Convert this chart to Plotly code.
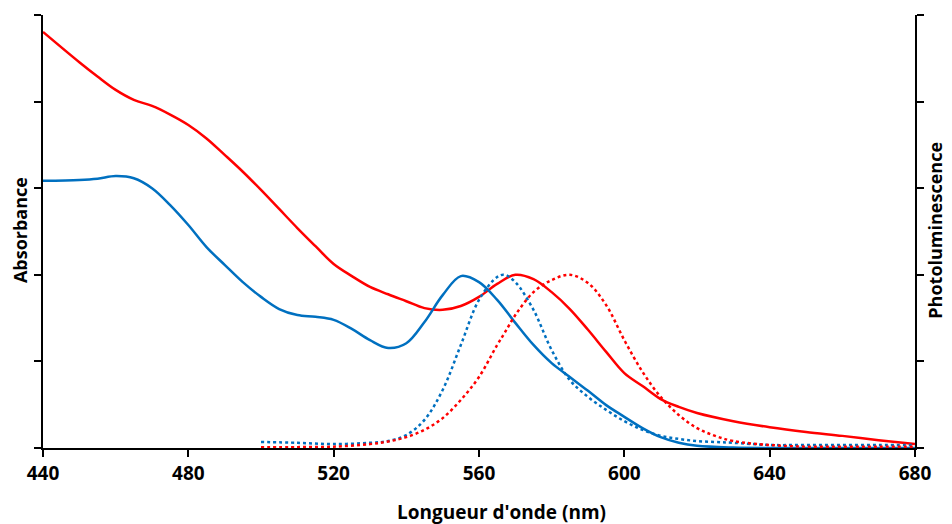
import plotly.graph_objects as go

## wavelength grids (nm)
wl_abs = [440, 450, 455, 460, 465, 470, 475, 480, 485, 490, 495, 500, 505, 510, 515, 520,
          525, 530, 535, 540, 545, 550, 555, 560, 565, 570, 575, 580, 585, 590, 595, 600,
          605, 610, 615, 620, 630, 640, 650, 660, 670, 680]

## absorbance, red sample
abs_red = [0.961, 0.891, 0.858, 0.827, 0.804, 0.790, 0.770, 0.746, 0.715, 0.677, 0.638, 0.596,
           0.552, 0.508, 0.466, 0.425, 0.397, 0.372, 0.355, 0.339, 0.323, 0.319, 0.328, 0.349,
           0.379, 0.400, 0.390, 0.360, 0.321, 0.273, 0.222, 0.173, 0.143, 0.113, 0.095, 0.081,
           0.062, 0.048, 0.037, 0.028, 0.018, 0.009]

## absorbance, blue sample
abs_blue = [0.617, 0.619, 0.622, 0.628, 0.623, 0.600, 0.561, 0.515, 0.464, 0.423, 0.383, 0.349,
            0.321, 0.307, 0.303, 0.296, 0.275, 0.249, 0.231, 0.242, 0.291, 0.353, 0.397, 0.383,
            0.342, 0.289, 0.238, 0.196, 0.164, 0.132, 0.099, 0.072, 0.046, 0.025, 0.012, 0.005,
            0.001, 0.0, 0.0, 0.0, 0.0, 0.0]

wl_pl = [500, 510, 520, 530, 535, 540, 545, 550, 555, 560, 565, 567, 570, 575, 580, 585, 590,
         595, 600, 605, 610, 615, 620, 625, 630, 640, 650, 660, 670, 680]

## photoluminescence (normalised)
pl_blue = [0.014, 0.012, 0.009, 0.012, 0.016, 0.030, 0.065, 0.134, 0.238, 0.342, 0.395, 0.400,
           0.383, 0.319, 0.226, 0.157, 0.118, 0.088, 0.062, 0.042, 0.028, 0.021, 0.016, 0.014,
           0.012, 0.007, 0.007, 0.007, 0.007, 0.007]
pl_red = [0.002, 0.002, 0.003, 0.009, 0.015, 0.025, 0.042, 0.069, 0.111, 0.164, 0.238, 0.265,
          0.307, 0.360, 0.388, 0.400, 0.381, 0.330, 0.249, 0.176, 0.118, 0.076, 0.046, 0.028,
          0.016, 0.007, 0.003, 0.003, 0.003, 0.003]

RED = "#FF0000"
BLUE = "#0070C0"

fig = go.Figure()
fig.add_trace(go.Scatter(x=wl_abs, y=abs_red, mode="lines", line=dict(color=RED, width=2.5, shape="spline")))
fig.add_trace(go.Scatter(x=wl_abs, y=abs_blue, mode="lines", line=dict(color=BLUE, width=2.5, shape="spline")))
fig.add_trace(go.Scatter(x=wl_pl, y=pl_blue, mode="lines", yaxis="y2",
                         line=dict(color=BLUE, width=2.5, dash="dot", shape="spline")))
fig.add_trace(go.Scatter(x=wl_pl, y=pl_red, mode="lines", yaxis="y2",
                         line=dict(color=RED, width=2.5, dash="dot", shape="spline")))

tick_font = dict(family="Open Sans", size=19, color="black", weight="bold")
title_font = dict(family="Open Sans", size=19, color="black", weight="bold")
side_font = dict(family="Open Sans", size=18, color="black", weight="bold")

axis_style = dict(showgrid=False, zeroline=False, showline=True, linecolor="black", linewidth=1.5,
                  ticks="outside", ticklen=7, tickwidth=1.5, tickcolor="black", automargin=False)

## the page body adds an 8px offset, so the figure is 8px smaller than the window
fig.update_layout(
    width=944, height=516,
    margin=dict(l=35, r=37, t=7, b=76),
    paper_bgcolor="white", plot_bgcolor="white",
    showlegend=False,
    font=dict(family="Open Sans", color="black"),
    xaxis=dict(range=[440, 680], dtick=40, tick0=440, tickfont=tick_font, **axis_style),
    yaxis=dict(range=[0, 1], dtick=0.2, showticklabels=False, **axis_style),
    yaxis2=dict(range=[0, 1], dtick=0.2, overlaying="y", side="right", showticklabels=False, **axis_style),
)

## axis titles as annotations so the plot area stays put
fig.add_annotation(text="Longueur d'onde (nm)", x=0.526, y=-0.148, xref="paper", yref="paper",
                   showarrow=False, font=title_font, xanchor="center", yanchor="middle")
fig.add_annotation(text="Absorbance", x=-0.0265, y=0.503, xref="paper", yref="paper",
                   showarrow=False, font=side_font, textangle=-90, xanchor="center", yanchor="middle")
fig.add_annotation(text="Photoluminescence", x=1.0235, y=0.503, xref="paper", yref="paper",
                   showarrow=False, font=side_font, textangle=-90, xanchor="center", yanchor="middle")

fig.write_html("out.html")
